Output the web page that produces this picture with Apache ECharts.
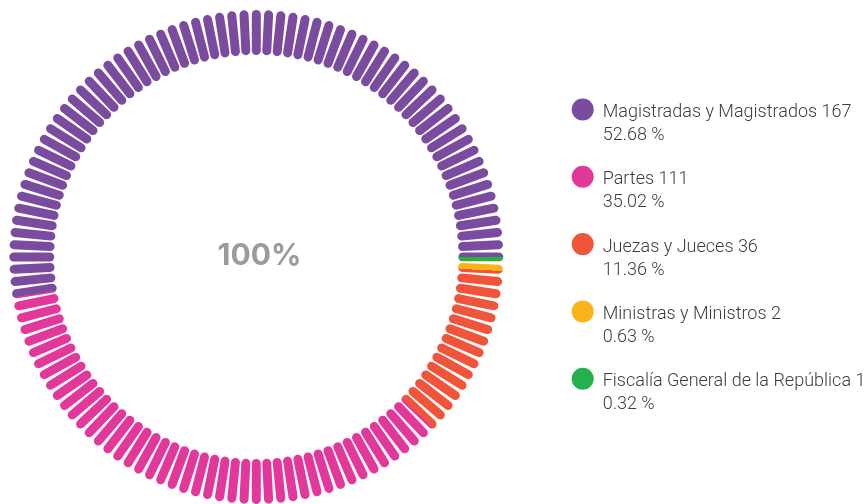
<!DOCTYPE html>
<html><head><meta charset="utf-8">
<script src="https://cdn.jsdelivr.net/npm/echarts@6/dist/echarts.min.js"></script>
<style>html,body{margin:0;padding:0;background:#fff}#c{width:866px;height:504px}</style>
</head><body><div id="c"></div>
<script>
// ---- data ----
const categories = ['Magistradas y Magistrados', 'Partes', 'Juezas y Jueces', 'Ministras y Ministros', 'Fiscalía General de la República'];
const values = [167, 111, 36, 2, 1];
const colors = ['#7a4b9e', '#e3389b', '#f0553c', '#fab31b', '#22b14c'];
const tickCount = 124;

// ---- derived ----
const total = values.reduce((a, b) => a + b, 0);
const bounds = []; let acc = 0;
values.forEach(v => { bounds.push([acc, acc + v]); acc += v; });
const half = total / (2 * tickCount);
const ticks = [];
for (let k = 0; k < tickCount; k++) ticks.push([1, k * total / tickCount]);
const R_IN = 202 / 247;
const W = 9;
const clamp = x => Math.min(1, Math.max(0, Math.round(x * 10000) / 10000));

function tickFill(v) {
  const hi = v + half, lo = v - half;
  const segs = [];
  [-total, 0, total].forEach(shift => {
    bounds.forEach((b, i) => {
      const top = Math.min(hi, b[1] + shift), bot = Math.max(lo, b[0] + shift);
      if (top - bot > 1e-9) segs.push({ i, t0: clamp((hi - top) / (2 * half)), t1: clamp((hi - bot) / (2 * half)) });
    });
  });
  segs.sort((a, b) => a.t0 - b.t0);
  if (segs.length === 1) return colors[segs[0].i];
  const stops = [];
  segs.forEach(s => { stops.push({ offset: s.t0, color: colors[s.i] }); stops.push({ offset: s.t1, color: colors[s.i] }); });
  return { type: 'linear', x: 0, y: 0, x2: 0, y2: 1, colorStops: stops };
}

const textBase = { fontFamily: 'Roboto', fontWeight: 300, fontSize: 18, color: '#3d3d3d', lineHeight: 23, padding: [0, 0, 0, 4] };

const chart = echarts.init(document.getElementById('c'), null, { renderer: 'canvas' });
chart.setOption({
  animation: false,
  backgroundColor: '#ffffff',
  polar: { center: [256.3, 257], radius: 247 },
  radiusAxis: { type: 'value', min: 0, max: 1, show: false },
  angleAxis: { type: 'value', min: 0, max: total, startAngle: 0, clockwise: false, show: false },
  graphic: [{
    type: 'text', x: 259.5, y: 256,
    style: { text: Math.round(values.reduce((a, b) => a + b, 0) / total * 100) + '%', fontFamily: 'Inter', fontWeight: 'bold', fontSize: 30, fill: '#9b9b9e', align: 'center', verticalAlign: 'middle' }
  }],
  legend: {
    orient: 'vertical', left: 566.7, top: 67, icon: 'circle', itemWidth: 22, itemHeight: 22, itemGap: -5.2,
    selectedMode: false,
    data: categories,
    textStyle: {
      fontFamily: 'Roboto', fontWeight: 300, fontSize: 18, color: '#3d3d3d',
      rich: { s: { lineHeight: 29, height: 29, fontSize: 10 }, a: textBase }
    },
    formatter: name => {
      const i = categories.indexOf(name);
      return '{s| }\n{a|' + name + ' ' + values[i] + '}\n{a|' + (values[i] / total * 100).toFixed(2) + ' %}';
    }
  },
  series: [
    {
      type: 'custom', coordinateSystem: 'polar', silent: true, data: ticks,
      renderItem(params, api) {
        const v = api.value(1);
        const cx = params.coordSys.cx, cy = params.coordSys.cy;
        const p0 = api.coord([R_IN, v]), p1 = api.coord([1, v]);
        const d0 = Math.hypot(p0[0] - cx, p0[1] - cy), d1 = Math.hypot(p1[0] - cx, p1[1] - cy);
        const theta = Math.atan2(-(p1[1] - cy), p1[0] - cx);
        return {
          type: 'rect', x: cx, y: cy, rotation: theta,
          shape: { x: d0, y: -W / 2, width: d1 - d0, height: W, r: W / 2 },
          style: { fill: tickFill(v) }
        };
      }
    },
    {
      type: 'pie', radius: [0, 0], center: [256, 257], silent: true, label: { show: false }, labelLine: { show: false },
      data: categories.map((n, i) => ({ name: n, value: values[i], itemStyle: { color: colors[i] } }))
    }
  ]
});
</script></body></html>
